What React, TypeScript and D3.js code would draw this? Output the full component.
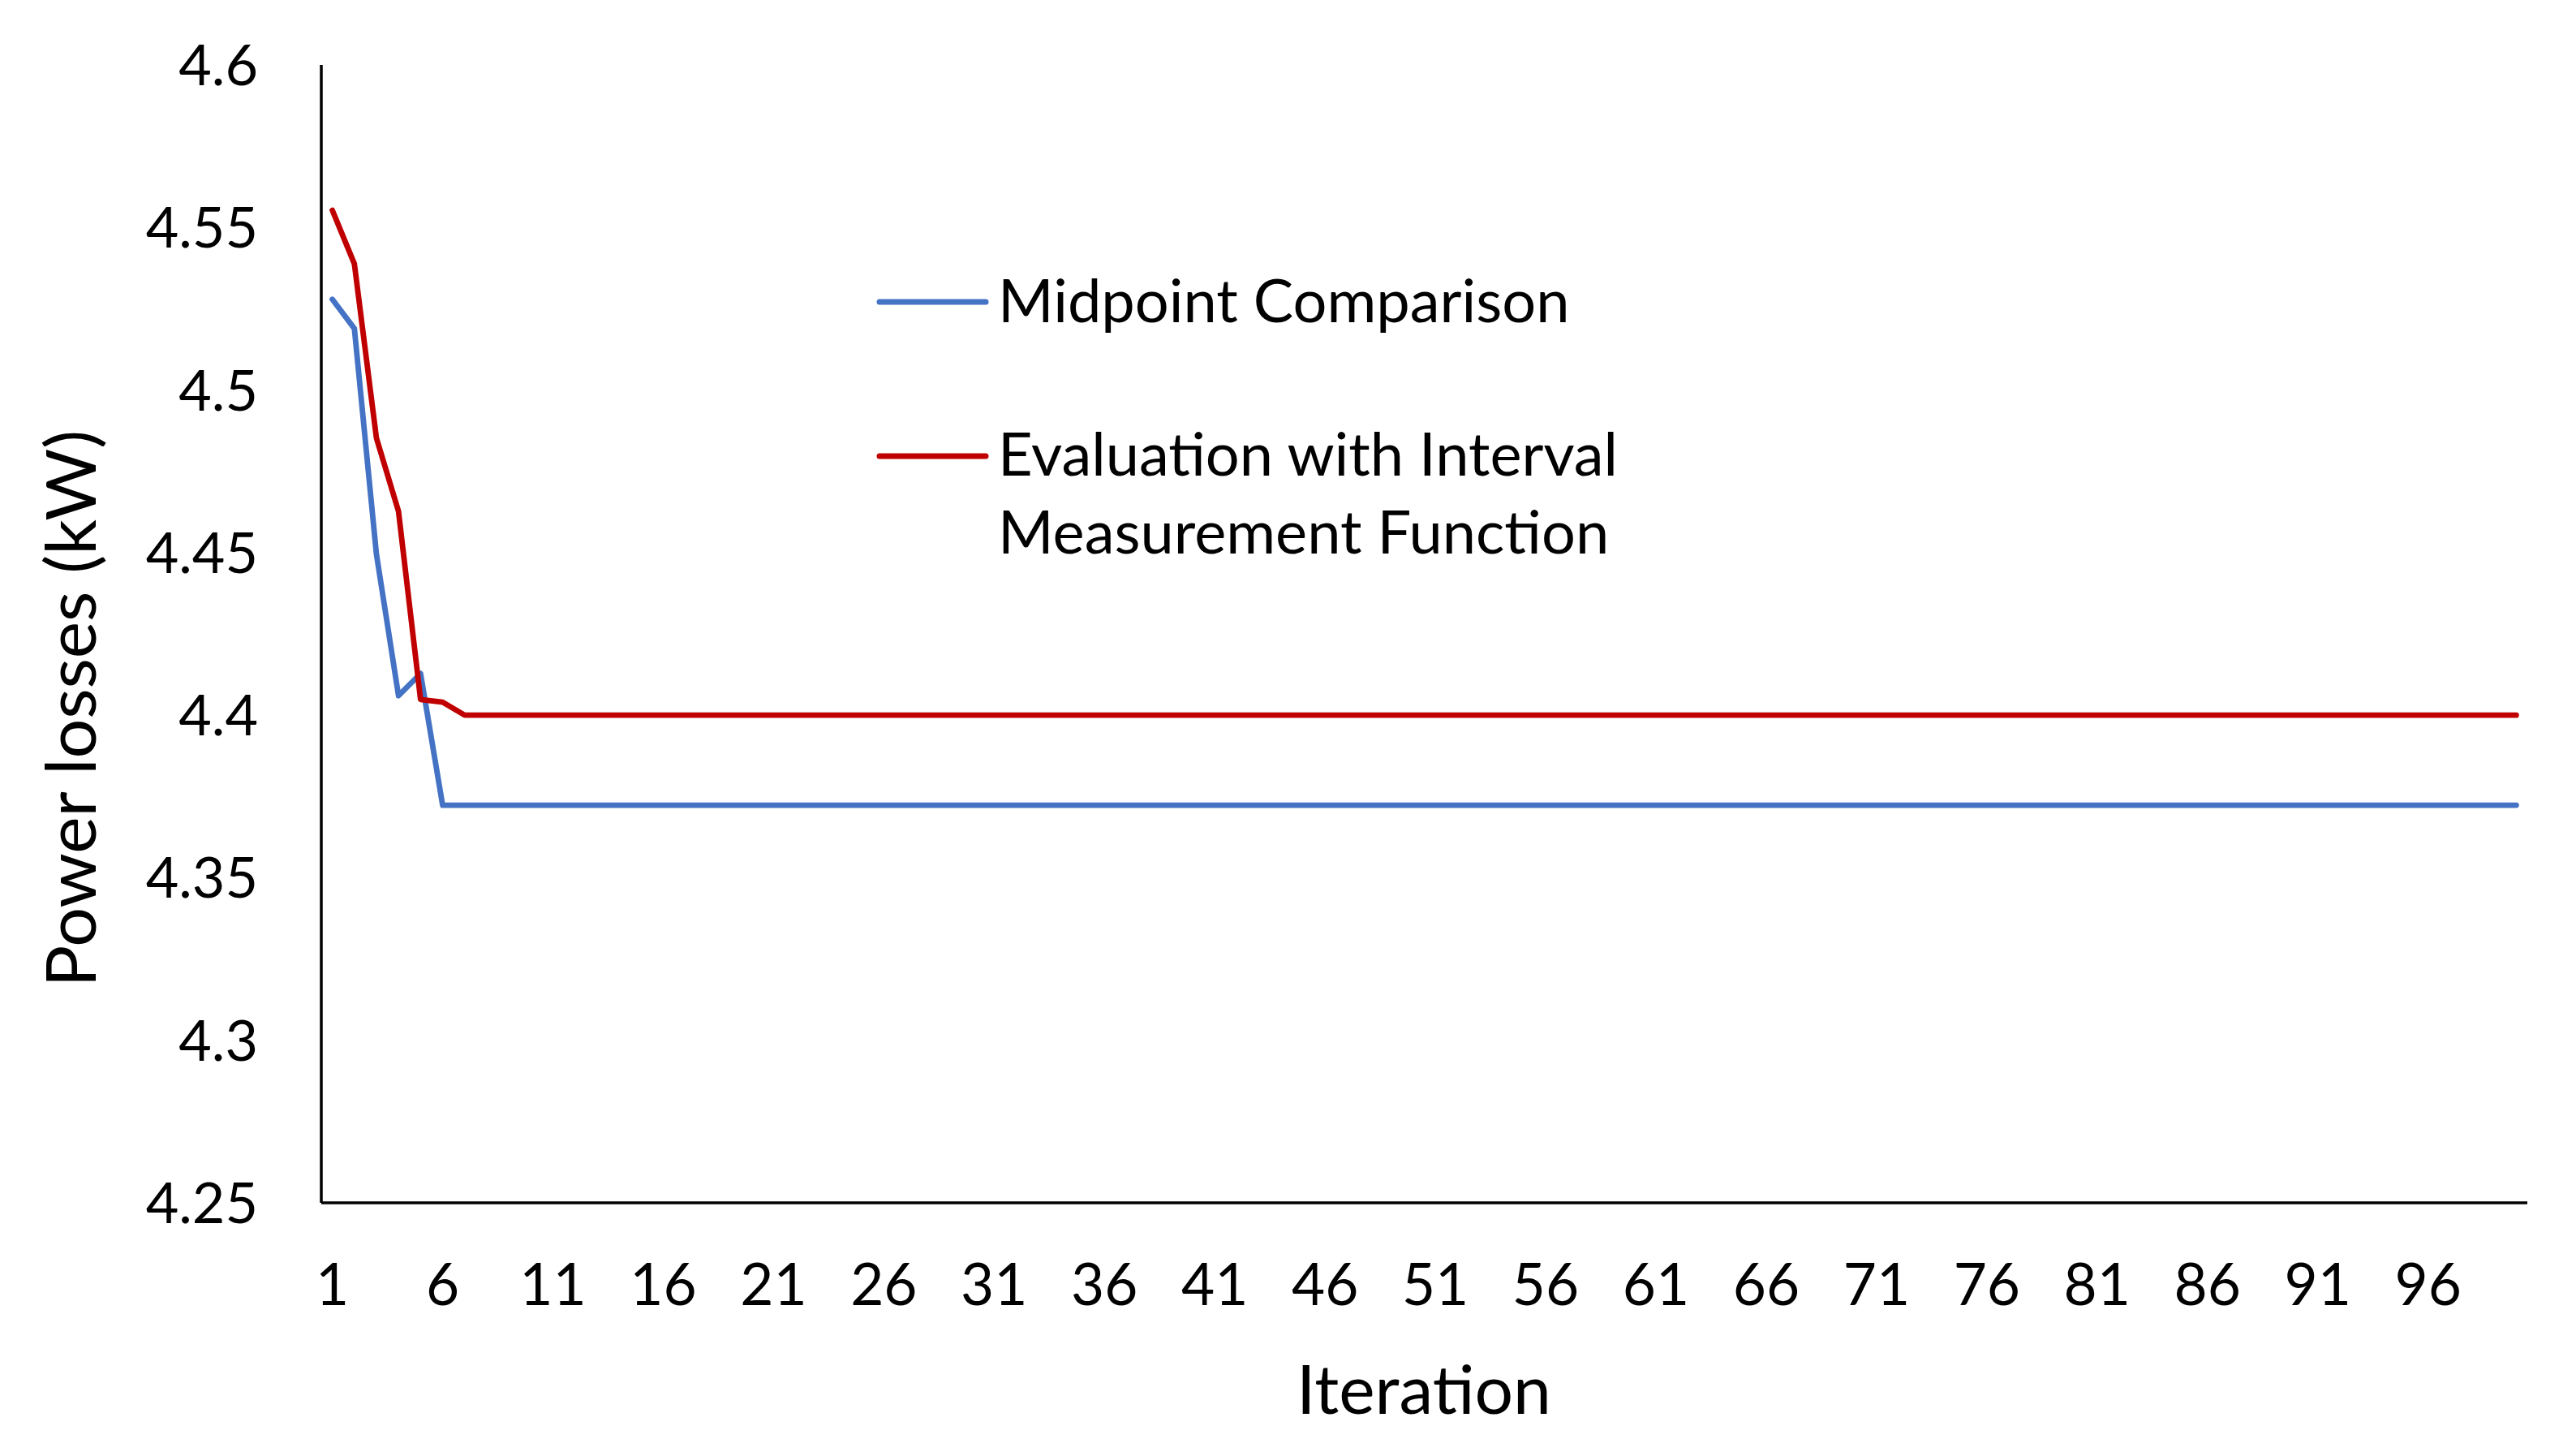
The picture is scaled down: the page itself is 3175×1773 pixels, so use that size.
import React, { useEffect } from "react";
import * as d3 from "d3";

const iterations: number[] = d3.range(1, 101);

const midpointComparison: number[] = [
  4.5279, 4.5189, 4.4495, 4.406, 4.4128, 4.3723, 4.3723, 4.3723, 4.3723, 4.3723,
  4.3723, 4.3723, 4.3723, 4.3723, 4.3723, 4.3723, 4.3723, 4.3723, 4.3723, 4.3723,
  4.3723, 4.3723, 4.3723, 4.3723, 4.3723, 4.3723, 4.3723, 4.3723, 4.3723, 4.3723,
  4.3723, 4.3723, 4.3723, 4.3723, 4.3723, 4.3723, 4.3723, 4.3723, 4.3723, 4.3723,
  4.3723, 4.3723, 4.3723, 4.3723, 4.3723, 4.3723, 4.3723, 4.3723, 4.3723, 4.3723,
  4.3723, 4.3723, 4.3723, 4.3723, 4.3723, 4.3723, 4.3723, 4.3723, 4.3723, 4.3723,
  4.3723, 4.3723, 4.3723, 4.3723, 4.3723, 4.3723, 4.3723, 4.3723, 4.3723, 4.3723,
  4.3723, 4.3723, 4.3723, 4.3723, 4.3723, 4.3723, 4.3723, 4.3723, 4.3723, 4.3723,
  4.3723, 4.3723, 4.3723, 4.3723, 4.3723, 4.3723, 4.3723, 4.3723, 4.3723, 4.3723,
  4.3723, 4.3723, 4.3723, 4.3723, 4.3723, 4.3723, 4.3723, 4.3723, 4.3723, 4.3723,
];

const intervalEvaluation: number[] = [
  4.5553, 4.5388, 4.4852, 4.4627, 4.4048, 4.404, 4.4, 4.4, 4.4, 4.4,
  4.4, 4.4, 4.4, 4.4, 4.4, 4.4, 4.4, 4.4, 4.4, 4.4,
  4.4, 4.4, 4.4, 4.4, 4.4, 4.4, 4.4, 4.4, 4.4, 4.4,
  4.4, 4.4, 4.4, 4.4, 4.4, 4.4, 4.4, 4.4, 4.4, 4.4,
  4.4, 4.4, 4.4, 4.4, 4.4, 4.4, 4.4, 4.4, 4.4, 4.4,
  4.4, 4.4, 4.4, 4.4, 4.4, 4.4, 4.4, 4.4, 4.4, 4.4,
  4.4, 4.4, 4.4, 4.4, 4.4, 4.4, 4.4, 4.4, 4.4, 4.4,
  4.4, 4.4, 4.4, 4.4, 4.4, 4.4, 4.4, 4.4, 4.4, 4.4,
  4.4, 4.4, 4.4, 4.4, 4.4, 4.4, 4.4, 4.4, 4.4, 4.4,
  4.4, 4.4, 4.4, 4.4, 4.4, 4.4, 4.4, 4.4, 4.4, 4.4,
];

const xTickLabels: number[] = [1, 6, 11, 16, 21, 26, 31, 36, 41, 46, 51, 56, 61, 66, 71, 76, 81, 86, 91, 96];
const yTickLabels: number[] = [4.25, 4.3, 4.35, 4.4, 4.45, 4.5, 4.55, 4.6];

const seriesNames = ["Midpoint Comparison", "Evaluation with Interval", "Measurement Function"];

const W = 3175;
const H = 1773;
const FONT = "Lato, 'Open Sans', sans-serif";

export default function App() {
  useEffect(() => {
    document.body.style.margin = "0";
  }, []);

  const x = d3.scalePoint<number>().domain(iterations).range([396, 3115]).padding(0.5);
  const y = d3.scaleLinear().domain([4.25, 4.6]).range([1482, 80]);

  const line = d3
    .line<number>()
    .x((_, i) => x(iterations[i]) as number)
    .y((d) => y(d));

  const blue = "#4472C4";
  const red = "#C00000";

  return (
    <svg
      width={W}
      height={H}
      viewBox={`0 0 ${W} ${H}`}
      style={{ position: "absolute", left: 0, top: 0, background: "#fff" }}
    >
      <rect x={0} y={0} width={W} height={H} fill="#fff" />
      {/* axes */}
      <line x1={396} x2={396} y1={y(4.6)} y2={y(4.25)} stroke="#000" strokeWidth={3.5} />
      <line x1={396} x2={3115} y1={y(4.25)} y2={y(4.25)} stroke="#000" strokeWidth={3.5} />

      {/* y tick labels */}
      {yTickLabels.map((v) => (
        <text
          key={v}
          x={318}
          y={y(v) + 25}
          textAnchor="end"
          fontFamily={FONT}
          fontSize={70}
          fill="#000"
        >
          {String(v)}
        </text>
      ))}

      {/* x tick labels */}
      {xTickLabels.map((v) => (
        <text
          key={v}
          x={x(v) as number}
          y={1608}
          textAnchor="middle"
          fontFamily={FONT}
          fontSize={71}
          fill="#000"
        >
          {String(v)}
        </text>
      ))}

      {/* series */}
      <path
        d={line(midpointComparison) || ""}
        fill="none"
        stroke={blue}
        strokeWidth={6.8}
        strokeLinejoin="round"
        strokeLinecap="round"
      />
      <path
        d={line(intervalEvaluation) || ""}
        fill="none"
        stroke={red}
        strokeWidth={6.8}
        strokeLinejoin="round"
        strokeLinecap="round"
      />

      {/* legend */}
      <line x1={1084} x2={1215} y1={372} y2={372} stroke={blue} strokeWidth={7} strokeLinecap="round" />
      <text x={1230} y={397} fontFamily={FONT} fontSize={74} fill="#000">
        {seriesNames[0]}
      </text>
      <line x1={1084} x2={1215} y1={562} y2={562} stroke={red} strokeWidth={7} strokeLinecap="round" />
      <text x={1230} y={586} fontFamily={FONT} fontSize={74} fill="#000">
        {seriesNames[1]}
      </text>
      <text x={1230} y={682} fontFamily={FONT} fontSize={74} fill="#000">
        {seriesNames[2]}
      </text>

      {/* axis titles */}
      <text x={1755} y={1742} textAnchor="middle" fontFamily={FONT} fontSize={84} fill="#000">
        Iteration
      </text>
      <text
        transform={`translate(118, 873) rotate(-90)`}
        textAnchor="middle"
        fontFamily={FONT}
        fontSize={86}
        fill="#000"
      >
        Power losses (kW)
      </text>
    </svg>
  );
}
